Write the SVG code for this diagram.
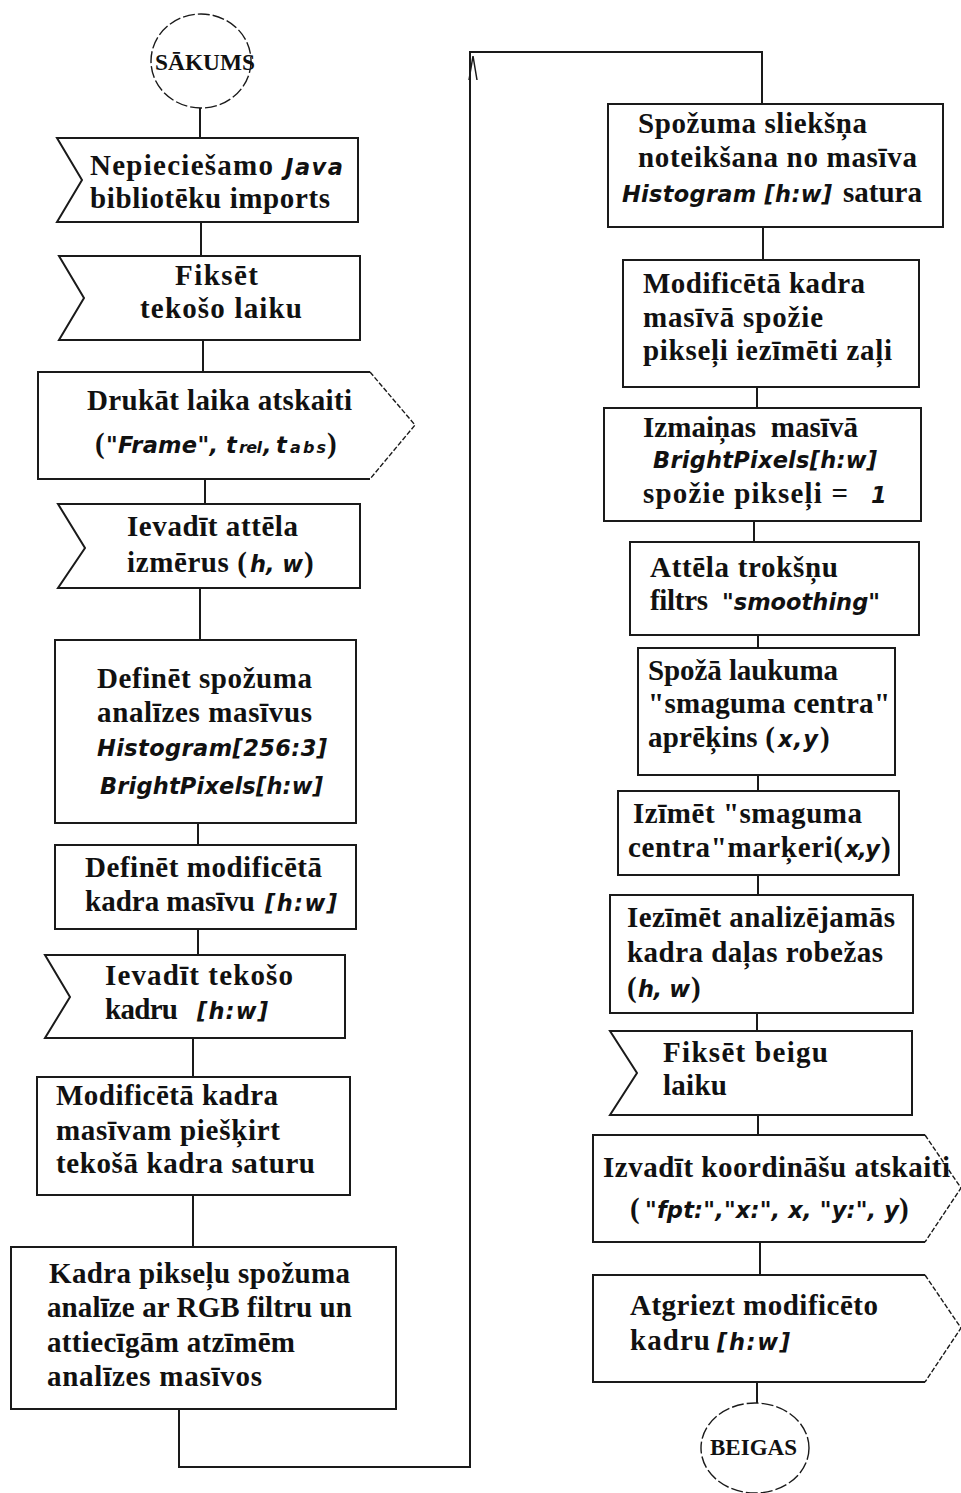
<svg xmlns="http://www.w3.org/2000/svg" width="961" height="1493" viewBox="0 0 961 1493">
<style>
.bg{fill:#fff}
.box{fill:#fff;stroke:#1a1a1a;stroke-width:2}
.edge{fill:none;stroke:#1a1a1a;stroke-width:2}
.dash{fill:none;stroke:#1a1a1a;stroke-width:1.4;stroke-dasharray:5 2}
.term{fill:#fff;stroke:#1a1a1a;stroke-width:1.4;stroke-dasharray:12 3}
.t{font-family:"Liberation Serif","Times New Roman",serif;font-weight:bold;font-size:29px;fill:#111}
.i{font-family:"DejaVu Sans",Verdana,sans-serif;font-style:italic;font-weight:bold;font-size:22.5px;fill:#111}
.s{font-size:16px}
</style>
<rect class="bg" x="0" y="0" width="961" height="1493"/>

<g id="connectors">
<path class="edge" d="M200,108V138M201,222V256M203,340V372M205,479V504M200,588V640M198,823V845M198,929V955M193,1038V1077M193,1195V1247"/>
<path class="edge" d="M179,1409V1467H470V52H762V104"/>
<path class="edge" d="M473,56L469,80M473,56L477,80" style="stroke-width:1.5"/>
<path class="edge" d="M763,227V260M757,387V408M754,521V542M758,635V648M758,775V791M758,875V895M757,1013V1031M758,1115V1135M760,1242V1275M757,1382V1403"/>
</g>

<g id="start">
<ellipse class="term" cx="201" cy="61" rx="50" ry="47"/>
<text class="t" x="155" y="70" style="font-size:24px" textLength="100" lengthAdjust="spacingAndGlyphs">SĀKUMS</text>
</g>

<g id="n1">
<polygon class="box" points="57,138 358,138 358,222 57,222 82,180"/>
<text class="t" x="90" y="175" textLength="183">Nepieciešamo</text>
<text class="i" x="285" y="175" textLength="58">Java</text>
<text class="t" x="90" y="208" textLength="240">bibliotēku imports</text>
</g>

<g id="n2">
<polygon class="box" points="59,256 360,256 360,340 59,340 84,298"/>
<text class="t" x="175" y="285" textLength="83">Fiksēt</text>
<text class="t" x="140" y="318" textLength="162">tekošo laiku</text>
</g>

<g id="n3">
<path class="box" d="M370,372H38V479H370"/>
<path class="dash" d="M370,372L415,425L370,479"/>
<text class="t" x="87" y="410" textLength="265">Drukāt laika atskaiti</text>
<text class="t" x="95" y="453">(</text>
<text class="i" x="106" y="453" textLength="112">"Frame",</text>
<text class="i" x="226" y="453">t</text>
<text class="i s" x="239" y="453" textLength="23">rel</text>
<text class="i" x="263" y="453">,</text>
<text class="i" x="276" y="453">t</text>
<text class="i s" x="290" y="453" textLength="36">abs</text>
<text class="t" x="327" y="453">)</text>
</g>

<g id="n4">
<polygon class="box" points="58,504 360,504 360,588 58,588 85,548"/>
<text class="t" x="127" y="536" textLength="171">Ievadīt attēla</text>
<text class="t" x="127" y="572" textLength="120">izmērus (</text>
<text class="i" x="250" y="572" textLength="53">h, w</text>
<text class="t" x="304" y="572">)</text>
</g>

<g id="n5">
<rect class="box" x="55" y="640" width="301" height="183"/>
<text class="t" x="97" y="688" textLength="215">Definēt spožuma</text>
<text class="t" x="97" y="722" textLength="215">analīzes masīvus</text>
<text class="i" x="97" y="756" textLength="230">Histogram[256:3]</text>
<text class="i" x="100" y="794" textLength="223">BrightPixels[h:w]</text>
</g>

<g id="n6">
<rect class="box" x="55" y="845" width="301" height="84"/>
<text class="t" x="85" y="877" textLength="237">Definēt modificētā</text>
<text class="t" x="85" y="911" textLength="170">kadra masīvu</text>
<text class="i" x="265" y="911" textLength="72">[h:w]</text>
</g>

<g id="n7">
<polygon class="box" points="45,955 345,955 345,1038 45,1038 70,997"/>
<text class="t" x="105" y="985" textLength="188">Ievadīt tekošo</text>
<text class="t" x="105" y="1019" textLength="73">kadru</text>
<text class="i" x="197" y="1019" textLength="71">[h:w]</text>
</g>

<g id="n8">
<rect class="box" x="37" y="1077" width="313" height="118"/>
<text class="t" x="56" y="1105" textLength="222">Modificētā kadra</text>
<text class="t" x="56" y="1140" textLength="224">masīvam piešķirt</text>
<text class="t" x="56" y="1173" textLength="259">tekošā kadra saturu</text>
</g>

<g id="n9">
<rect class="box" x="11" y="1247" width="385" height="162"/>
<text class="t" x="49" y="1283" textLength="301">Kadra pikseļu spožuma</text>
<text class="t" x="47" y="1317" textLength="305">analīze ar RGB filtru un</text>
<text class="t" x="47" y="1352" textLength="248">attiecīgām atzīmēm</text>
<text class="t" x="47" y="1386" textLength="215">analīzes masīvos</text>
</g>

<g id="r1">
<rect class="box" x="608" y="104" width="335" height="123"/>
<text class="t" x="638" y="133" textLength="229">Spožuma sliekšņa</text>
<text class="t" x="638" y="167" textLength="279">noteikšana no masīva</text>
<text class="i" x="622" y="202" textLength="210">Histogram [h:w]</text>
<text class="t" x="843" y="202" textLength="79">satura</text>
</g>

<g id="r2">
<rect class="box" x="623" y="260" width="296" height="127"/>
<text class="t" x="643" y="293" textLength="222">Modificētā kadra</text>
<text class="t" x="643" y="327" textLength="180">masīvā spožie</text>
<text class="t" x="643" y="360" textLength="249">pikseļi iezīmēti zaļi</text>
</g>

<g id="r3">
<rect class="box" x="604" y="408" width="317" height="113"/>
<text class="t" x="643" y="437" textLength="215" xml:space="preserve">Izmaiņas  masīvā</text>
<text class="i" x="653" y="468" textLength="224">BrightPixels[h:w]</text>
<text class="t" x="643" y="503" textLength="205">spožie pikseļi =</text>
<text class="i" x="871" y="503">1</text>
</g>

<g id="r4">
<rect class="box" x="630" y="542" width="289" height="93"/>
<text class="t" x="650" y="577" textLength="188">Attēla trokšņu</text>
<text class="t" x="650" y="610" textLength="58">filtrs</text>
<text class="i" x="722" y="610" textLength="158">"smoothing"</text>
</g>

<g id="r5">
<rect class="box" x="638" y="648" width="257" height="127"/>
<text class="t" x="648" y="680" textLength="190">Spožā laukuma</text>
<text class="t" x="648" y="713" textLength="242">"smaguma centra"</text>
<text class="t" x="648" y="747" textLength="127">aprēķins (</text>
<text class="i" x="778" y="747" textLength="40">x,y</text>
<text class="t" x="820" y="747">)</text>
</g>

<g id="r6">
<rect class="box" x="618" y="791" width="281" height="84"/>
<text class="t" x="633" y="823" textLength="229">Izīmēt "smaguma</text>
<text class="t" x="628" y="857" textLength="215">centra"marķeri(</text>
<text class="i" x="845" y="857" textLength="35">x,y</text>
<text class="t" x="881" y="857">)</text>
</g>

<g id="r7">
<rect class="box" x="610" y="895" width="303" height="118"/>
<text class="t" x="627" y="927" textLength="268">Iezīmēt analizējamās</text>
<text class="t" x="627" y="962" textLength="256">kadra daļas robežas</text>
<text class="t" x="627" y="997">(</text>
<text class="i" x="638" y="997" textLength="52">h, w</text>
<text class="t" x="691" y="997">)</text>
</g>

<g id="r8">
<polygon class="box" points="610,1031 912,1031 912,1115 610,1115 637,1073"/>
<text class="t" x="663" y="1062" textLength="165">Fiksēt beigu</text>
<text class="t" x="663" y="1095" textLength="64">laiku</text>
</g>

<g id="r9">
<path class="box" d="M925,1135H593V1242H925"/>
<path class="dash" d="M925,1135L961,1188L925,1242"/>
<text class="t" x="603" y="1177" textLength="347">Izvadīt koordināšu atskaiti</text>
<text class="t" x="630" y="1218">(</text>
<text class="i" x="645" y="1218" textLength="254">"fpt:","x:", x, "y:", y</text>
<text class="t" x="899" y="1218">)</text>
</g>

<g id="r10">
<path class="box" d="M925,1275H593V1382H925"/>
<path class="dash" d="M925,1275L961,1328L925,1382"/>
<text class="t" x="630" y="1315" textLength="248">Atgriezt modificēto</text>
<text class="t" x="630" y="1350" textLength="80">kadru</text>
<text class="i" x="717" y="1350" textLength="73">[h:w]</text>
</g>

<g id="end">
<ellipse class="term" cx="755" cy="1448" rx="54" ry="45"/>
<text class="t" x="710" y="1455" style="font-size:23px" textLength="87" lengthAdjust="spacingAndGlyphs">BEIGAS</text>
</g>
</svg>
